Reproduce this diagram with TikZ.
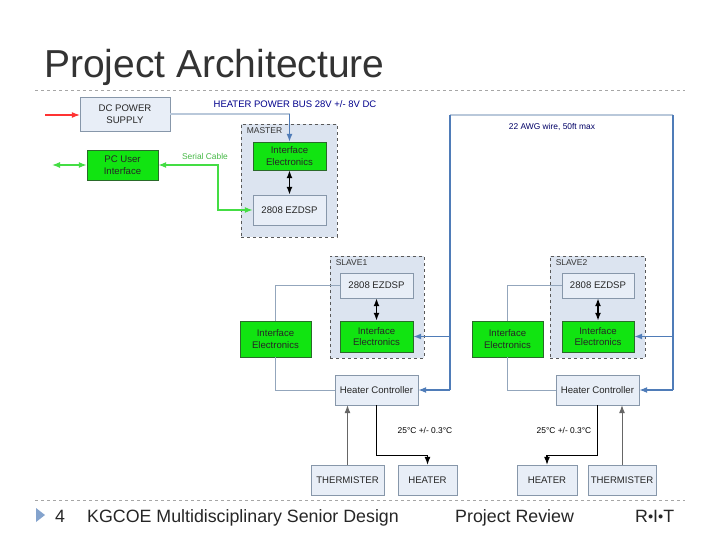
\documentclass[tikz,border=0pt]{standalone}
\usepackage{fontspec}
\setmainfont{Liberation Sans}
\usetikzlibrary{arrows.meta}
\definecolor{boxfill}{HTML}{E8EEF7}
\definecolor{boxline}{HTML}{8797AA}
\definecolor{grpfill}{HTML}{DCE4F0}
\definecolor{ifgreen}{HTML}{11E411}
\definecolor{ifline}{HTML}{2A6A2A}
\definecolor{wireblue}{HTML}{4F7CB8}
\definecolor{wirelight}{HTML}{B9C8DA}
\definecolor{sergreen}{HTML}{44DD44}
\definecolor{siggrey}{HTML}{93A6BC}
\definecolor{rulegrey}{HTML}{A6A6A6}
\tikzset{
  tip/.tip={Latex[length=8pt,width=6pt]},
  blk/.style={draw=boxline, fill=boxfill, align=center, inner sep=1pt,
    font=\fontsize{9.6}{11.5}\selectfont, text=black!85},
  iface/.style={blk, draw=ifline, fill=ifgreen},
  grp/.style={draw=black!65, dashed, fill=grpfill, thick},
  grplabel/.style={anchor=north west, inner sep=0pt, font=\fontsize{8.5}{9}\selectfont, text=black!80},
  pwr/.style={draw=wireblue, line width=1.3pt, -tip},
  ser/.style={draw=sergreen, line width=1.3pt, tip-tip},
  ctl/.style={draw=black, line width=1.6pt, tip-tip},
  sig/.style={draw=siggrey, line width=0.9pt},
  drv/.style={draw=black, line width=1.1pt, -tip},
  note/.style={inner sep=0pt, font=\fontsize{8.4}{9}\selectfont}
}
\begin{document}
\begin{tikzpicture}[x=1pt,y=-1pt]
  \useasboundingbox[fill=white] (0,0) rectangle (720,540);
  % slide frame
  \node[anchor=base west, inner sep=0pt, font=\fontsize{39}{44}\selectfont, text=black!80] (title) at (44,78) {Project Architecture};
  \draw[rulegrey, dashed] (35,90) -- (685,90);
  \draw[rulegrey, dashed] (35,500) -- (685,500);
  \fill[color=wireblue!70] (36,508) -- (45,515) -- (36,522) -- cycle;
  \begin{scope}[font=\fontsize{17.8}{20}\selectfont, text=black!85]
    \node[anchor=base west, inner sep=0pt] (pageno) at (55,522) {4};
    \node[anchor=base west, inner sep=0pt] (college) at (87,522) {KGCOE Multidisciplinary Senior Design};
    \node[anchor=base west, inner sep=0pt] (review) at (455,522) {Project Review};
    \node[anchor=base west, inner sep=0pt] (rit) at (635,522) {R\raisebox{0.15em}{\scalebox{0.6}{$\bullet$}}I\raisebox{0.15em}{\scalebox{0.6}{$\bullet$}}T};
  \end{scope}
  % master
  \node[blk, minimum width=90, minimum height=34] (dcps) at (125,114) {DC POWER\\SUPPLY};
  \node[grp, minimum width=96, minimum height=113] (master) at (289,180.5) {};
  \node[grplabel] at ([shift={(6,4)}]master.north west) {MASTER};
  \node[iface, minimum width=73, minimum height=28] (mie) at (289.5,156) {Interface\\Electronics};
  \node[blk, minimum width=73, minimum height=30] (mdsp) at (289.5,210) {2808 EZDSP};
  \node[iface, minimum width=71, minimum height=30] (pcui) at (122.5,165) {PC User\\Interface};
  \coordinate (mains) at (45,115);
  \coordinate (usb) at (52,165);
  \coordinate (mbus) at (mie.north |- dcps.east);
  \coordinate (sbend) at (218,165);
  \draw[red!80, line width=1.1pt, -tip] (mains) -- (dcps.west |- mains);
  \draw[wirelight, line width=1.3pt] (dcps.east) -- (mbus);
  \draw[pwr] (mbus) -- (mie.north);
  \draw[ser] (usb) -- (pcui.west);
  \draw[ser] (pcui.east) -- (sbend) |- (mdsp.west);
  \draw[ctl] (mie.south) -- (mdsp.north);
  \node[note, font=\fontsize{9.5}{10}\selectfont, text=blue!55!black] at (295,104) {HEATER POWER BUS 28V +/- 8V DC};
  \node[note, text=green!45!gray] at (205,156) {Serial Cable};
  % 22 AWG loop
  \coordinate (wl) at (450,115);
  \coordinate (wr) at (673,115);
  \coordinate (wlb) at (450,390);
  \coordinate (wrb) at (673,390);
  \draw[wirelight, line width=1.7pt] (wl) -- (wr);
  \draw[wireblue, line width=1.3pt] (wl) -- (wlb);
  \draw[wireblue, line width=1.3pt] (wr) -- (wrb);
  \node[note, text=blue!40!black] at (552,127) {22 AWG wire, 50ft max};
  % slave 1
  \node[grp, minimum width=94, minimum height=102] (s1box) at (377,307) {};
  \node[grplabel] at ([shift={(6,4)}]s1box.north west) {SLAVE1};
  \node[blk, minimum width=73, minimum height=25] (s1dsp) at (376.5,285.5) {2808 EZDSP};
  \node[iface, minimum width=73, minimum height=31] (s1ie) at (376.5,336.5) {Interface\\Electronics};
  \node[iface, minimum width=71, minimum height=36] (s1oie) at (275.5,339) {Interface\\Electronics};
  \node[blk, minimum width=83, minimum height=30] (s1hc) at (376.5,390) {Heater Controller};
  \node[blk, minimum width=73, minimum height=30] (s1th) at (347.5,480) {THERMISTER};
  \node[blk, minimum width=59, minimum height=30] (s1ht) at (427.5,480) {HEATER};
  \draw[sig] (s1dsp.west) -| (s1oie.north);
  \draw[sig] (s1oie.south) |- (s1hc.west);
  \draw[ctl] (s1dsp.south) -- (s1ie.north);
  \draw[pwr] (wl |- s1ie.east) -- (s1ie.east);
  \draw[pwr] (wlb) -- (s1hc.east);
  \draw[sig, draw=black!60, -tip] (s1th.north) -- (s1th.north |- s1hc.south);
  \draw[drv] (s1hc.south) -- ++(0,50) -| (s1ht.north);
  \node[note] at (425,430) {25°C +/- 0.3°C};
  % slave 2
  \node[grp, minimum width=95, minimum height=102] (s2box) at (597.5,307) {};
  \node[grplabel] at ([shift={(6,4)}]s2box.north west) {SLAVE2};
  \node[blk, minimum width=72, minimum height=25] (s2dsp) at (598,285.5) {2808 EZDSP};
  \node[iface, minimum width=72, minimum height=31] (s2ie) at (598,336.5) {Interface\\Electronics};
  \node[iface, minimum width=71, minimum height=36] (s2oie) at (507.5,339) {Interface\\Electronics};
  \node[blk, minimum width=83, minimum height=30] (s2hc) at (597.5,390) {Heater Controller};
  \node[blk, minimum width=60, minimum height=30] (s2ht) at (547,480) {HEATER};
  \node[blk, minimum width=68, minimum height=30] (s2th) at (622,480) {THERMISTER};
  \draw[sig] (s2dsp.west) -| (s2oie.north);
  \draw[sig] (s2oie.south) |- (s2hc.west);
  \draw[ctl] (s2dsp.south) -- (s2ie.north);
  \draw[pwr] (wr |- s2ie.east) -- (s2ie.east);
  \draw[pwr] (wrb) -- (s2hc.east);
  \draw[sig, draw=black!60, -tip] (s2th.north) -- (s2th.north |- s2hc.south);
  \draw[drv] (s2hc.south) -- ++(0,50) -| (s2ht.north);
  \node[note] at (564,430) {25°C +/- 0.3°C};
\end{tikzpicture}
\end{document}
